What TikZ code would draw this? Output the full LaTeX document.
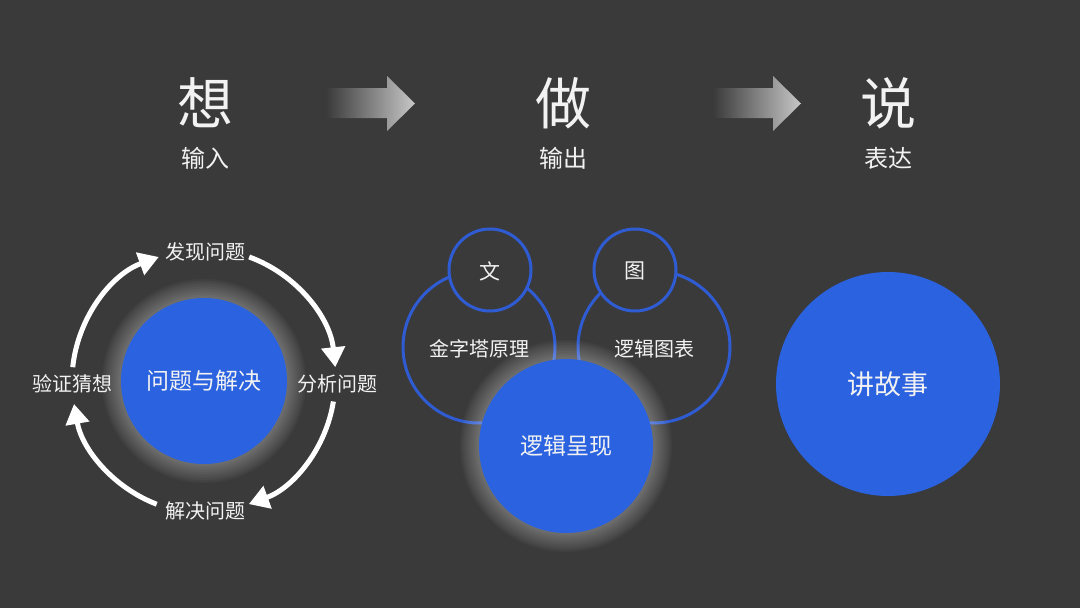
\documentclass[tikz,border=0pt]{standalone}
\usepackage{fontspec}
\setmainfont{Noto Sans CJK SC}
\usetikzlibrary{arrows.meta}
\definecolor{bgc}{HTML}{3A3A3A}
\definecolor{blu}{HTML}{2A62E0}
\definecolor{rim}{HTML}{2F5CD2}
\definecolor{txt}{HTML}{F2F2F2}
\def\glow(#1)(#2){\foreach \i in {1,...,12} {\fill[white,opacity=0.026] (#1) circle ({#2+\i*1.6});}}
\tikzset{
  big/.style={text=txt,font=\fontsize{56}{56}\selectfont},
  sub/.style={text=txt,font=\fontsize{24}{24}\selectfont},
  lbl/.style={text=txt,font=\fontsize{20}{20}\selectfont},
  core/.style={text=txt,font=\fontsize{23}{23}\selectfont},
  cyclearrow/.style={white,line width=5pt,-{Triangle[length=20pt,width=23pt]}},
  ring/.style={draw=rim,line width=3pt},
}

\begin{document}
\begin{tikzpicture}[x=1pt,y=-1pt]
		%%%%% START %%%%%
		\fill[bgc] (0,0) rectangle (1080,608);
		\useasboundingbox (0,0) rectangle (1080,608);
		
		% headings
		\node[big] (think) at (205,103) {想};
		\node[sub] (thinksub) at (205,158) {输入};
		\node[big] (do) at (563,103) {做};
		\node[sub] (dosub) at (563,158) {输出};
		\node[big] (say) at (888,103) {说};
		\node[sub] (saysub) at (888,158) {表达};
		
		% gradient arrows
		\shade[left color=bgc,right color=black!22] (326,88) -- (387,88) -- (387,76) -- (415,103.5) -- (387,131) -- (387,118) -- (326,118) -- cycle;
		\shade[left color=bgc,right color=black!22] (713,88) -- (773,88) -- (773,76) -- (801,103.5) -- (773,131) -- (773,118) -- (713,118) -- cycle;
		
		% cycle
		\coordinate (cyc) at (204,381);
		\glow(cyc)(83)
		\fill[blu] (cyc) circle (83);
		\node[core] (issue) at (cyc) {问题与解决};
		\node[lbl] (find) at (205,252) {发现问题};
		\node[lbl] (analyse) at (337,384) {分析问题};
		\node[lbl] (solve) at (205,511) {解决问题};
		\node[lbl] (verify) at (72,384) {验证猜想};
		\draw[cyclearrow] ([shift={(-70:132)}]cyc) arc (-70:-6:132);
		\draw[cyclearrow] ([shift={(9:131)}]cyc) arc (9:70:131);
		\draw[cyclearrow] ([shift={(111:132)}]cyc) arc (111:170:132);
		\draw[cyclearrow] ([shift={(186:132)}]cyc) arc (186:250:132);
		
		% logic
		\draw[ring] (479,347) circle (76);
		\draw[ring] (654,347) circle (76);
		\draw[ring,fill=bgc] (490,270) circle (41);
		\draw[ring,fill=bgc] (635,270) circle (41);
		\node[lbl,font=\fontsize{21}{21}\selectfont] (wen) at (490,271) {文};
		\node[lbl,font=\fontsize{21}{21}\selectfont] (tu) at (635,271) {图};
		\node[lbl] (pyramid) at (479,349) {金字塔原理};
		\node[lbl] (chart) at (654,349) {逻辑图表};
		\coordinate (show) at (566,446);
		\glow(show)(87)
		\fill[blu] (show) circle (87);
		\node[core] (present) at (show) {逻辑呈现};
		
		% story
		\fill[blu] (888,384) circle (112);
		\node[core,font=\fontsize{27}{27}\selectfont] (story) at (888,384) {讲故事};
		%%%%% END %%%%%
\end{tikzpicture}
\end{document}
